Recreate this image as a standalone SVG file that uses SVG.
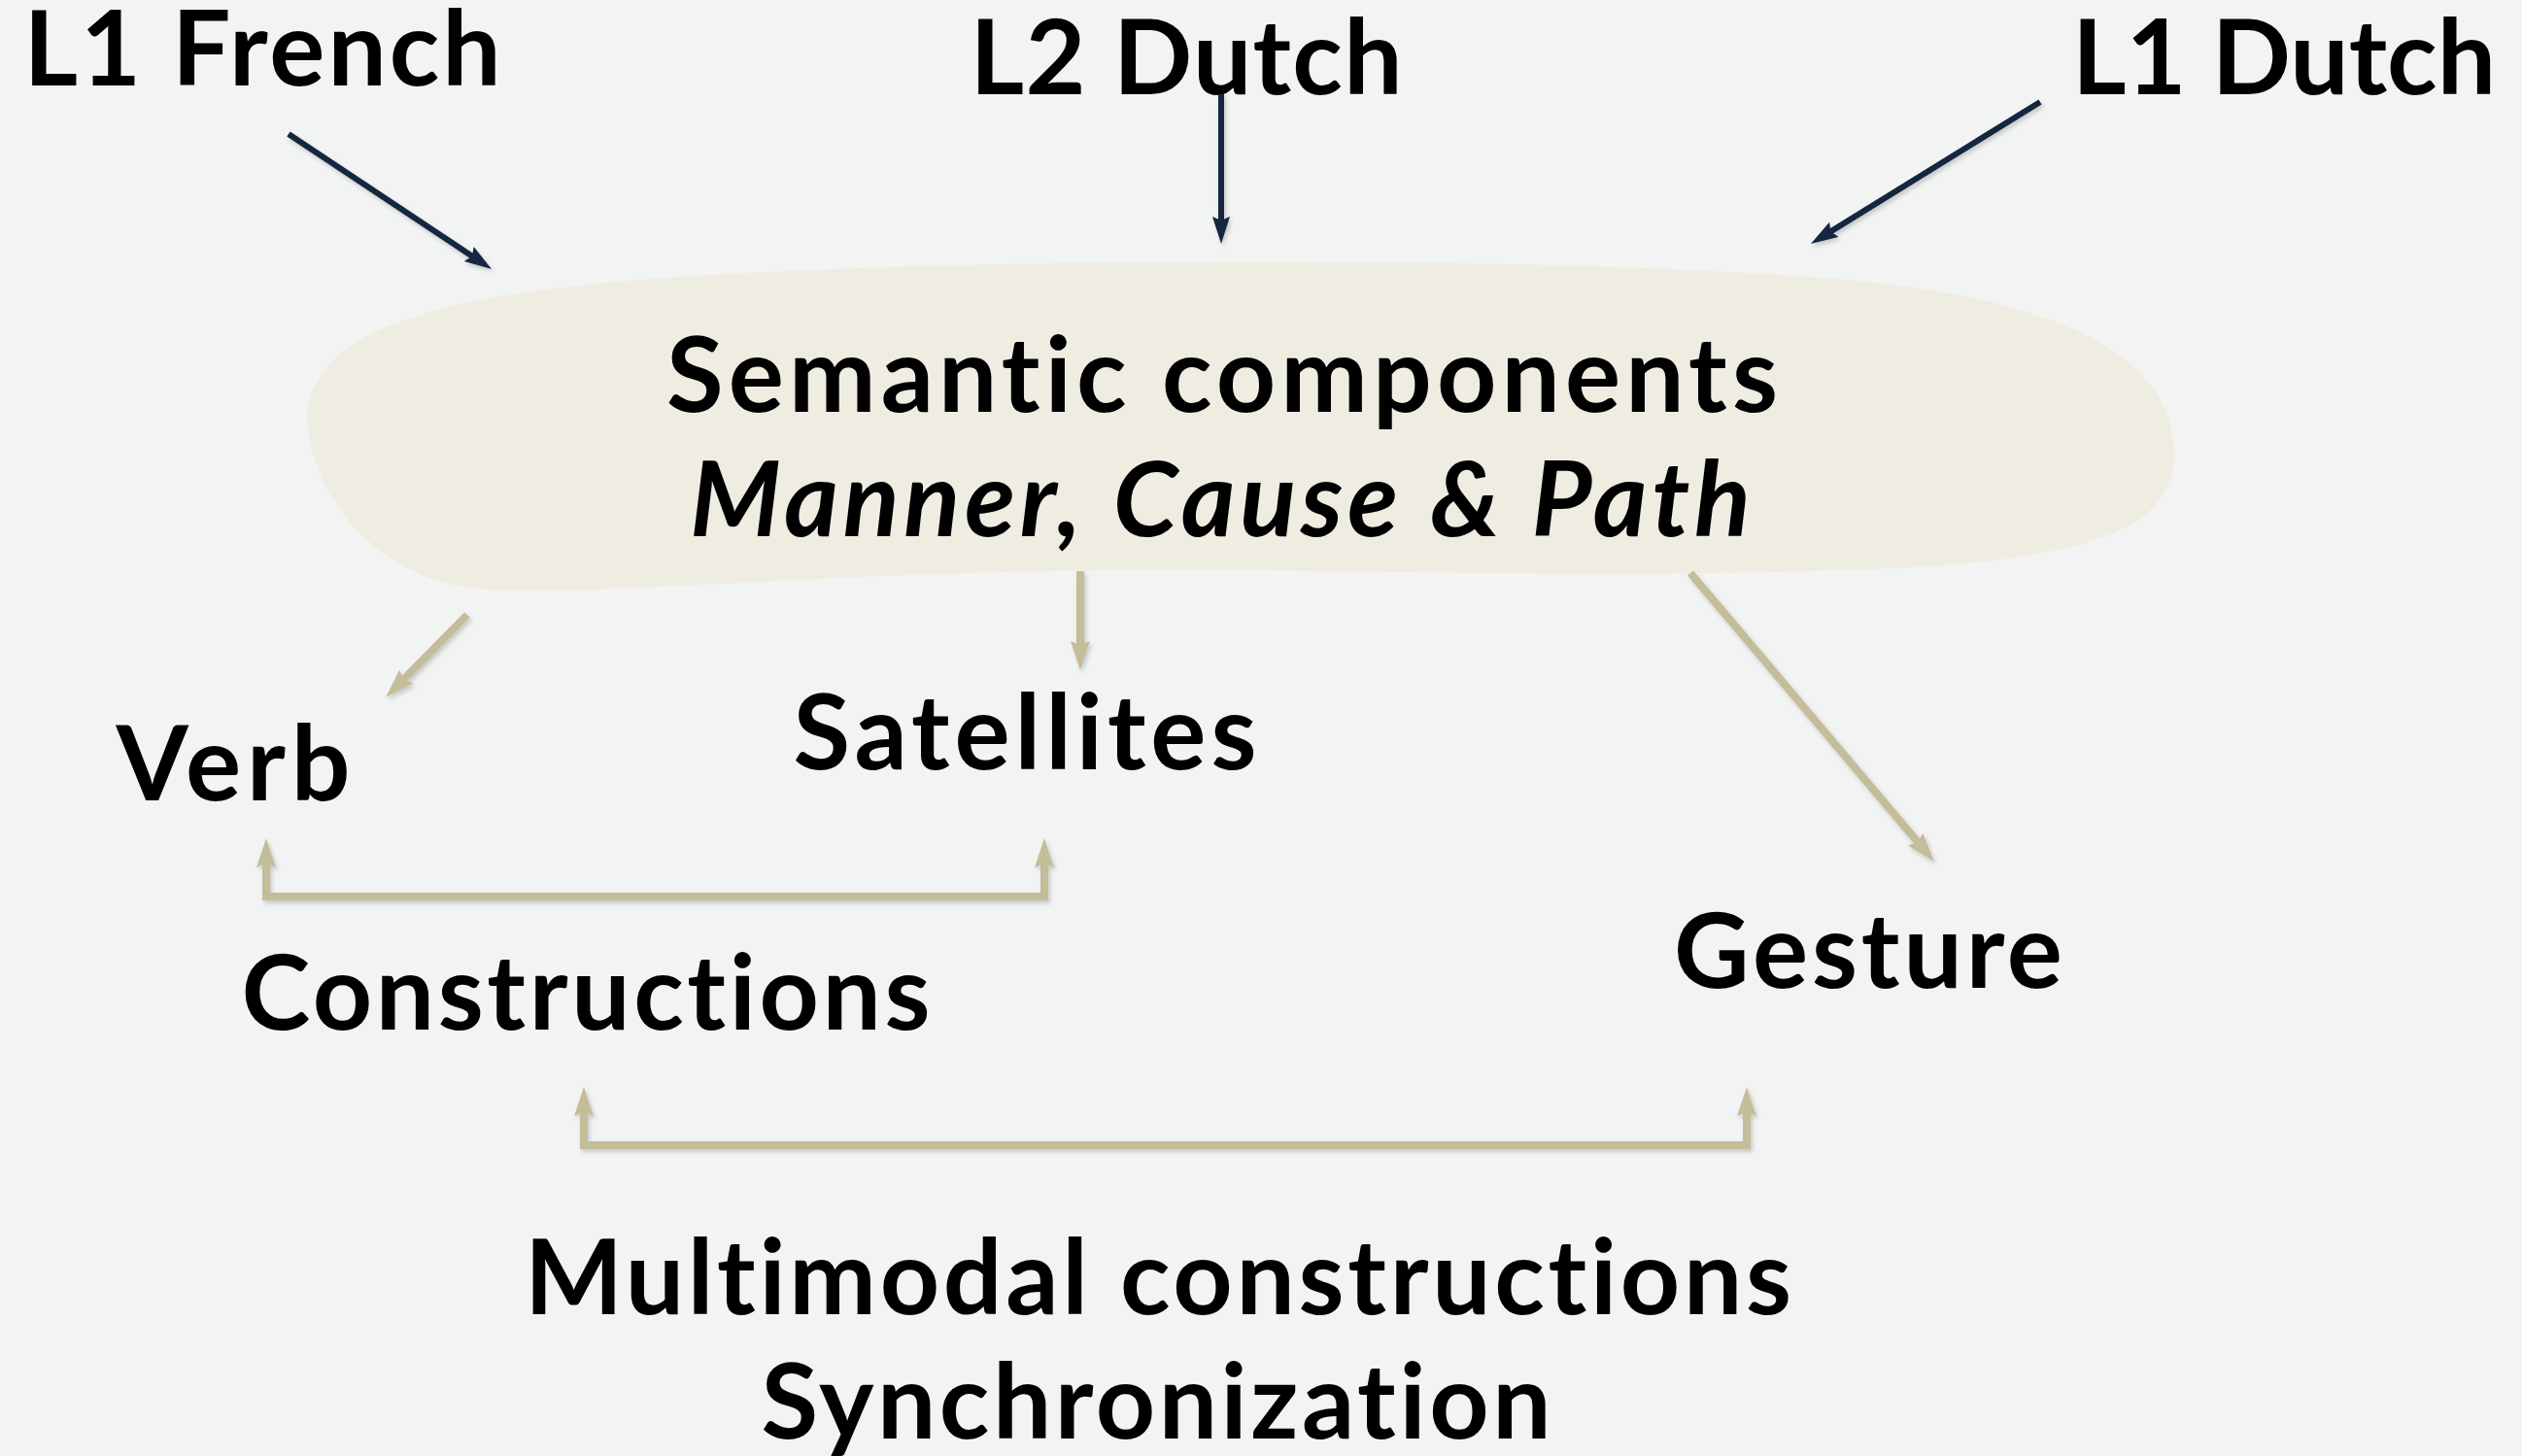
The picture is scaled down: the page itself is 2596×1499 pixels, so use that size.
<svg xmlns="http://www.w3.org/2000/svg" width="2596" height="1499" viewBox="0 0 2596 1499">
  <style>
    .t { font-family: Lato, "Open Sans", "Liberation Sans", sans-serif; font-weight: 700; font-size: 107px; fill: #000; text-anchor: middle; font-variant-ligatures: none; font-feature-settings: "liga" 0, "clig" 0; }
    .i { font-style: italic; }
    .dark { stroke: #13253f; stroke-width: 6; fill: none; }
    .gold { stroke: #c4bd9a; stroke-width: 8; fill: none; stroke-linejoin: miter; }
  </style>
  <defs>
    <filter id="sh" x="-20%" y="-20%" width="140%" height="140%">
      <feDropShadow dx="2" dy="3" stdDeviation="2" flood-color="#000" flood-opacity="0.18"/>
    </filter>
    <marker id="hd" markerUnits="userSpaceOnUse" markerWidth="32" markerHeight="20" viewBox="0 0 32 20" refX="4" refY="9" orient="auto-start-reverse">
      <path d="M0,0 L28,9 L0,18 L4,9 z" fill="#13253f"/>
    </marker>
    <marker id="hg" markerUnits="userSpaceOnUse" markerWidth="34" markerHeight="24" viewBox="0 0 34 24" refX="4" refY="10" orient="auto-start-reverse">
      <path d="M0,0 L30,10 L0,20 L4,10 z" fill="#c4bd9a"/>
    </marker>
  </defs>
  <rect width="2596" height="1499" fill="#f2f4f3"/>

  <g id="semantic-components">
    <path d="M316,430 C320,330 480,300 700,285 C1000,265 1600,262 1900,288 C2150,310 2240,380 2238,470 C2236,545 2150,575 1950,585 C1600,600 1300,580 1000,590 C800,595 620,612 500,607 C400,602 320,520 316,430 Z" fill="#efede2"/>
    <text class="t" x="1258" y="424" textLength="1144">Semantic components</text>
    <text class="t i" x="1256" y="552" textLength="1092">Manner, Cause &amp; Path</text>
  </g>
  <g id="l1-french"><text class="t" x="270" y="88" textLength="491">L1 French</text></g>
  <g id="l2-dutch"><text class="t" x="1221" y="97" textLength="445">L2 Dutch</text></g>
  <g id="l1-dutch"><text class="t" x="2351" y="97" textLength="436">L1 Dutch</text></g>
  <g id="verb"><text class="t" x="240" y="824" textLength="241">Verb</text></g>
  <g id="satellites"><text class="t" x="1055" y="792" textLength="477">Satellites</text></g>
  <g id="constructions"><text class="t" x="603" y="1060" textLength="709">Constructions</text></g>
  <g id="gesture"><text class="t" x="1923" y="1017" textLength="400">Gesture</text></g>
  <g id="multimodal">
    <text class="t" x="1192" y="1353" textLength="1304">Multimodal constructions</text>
    <text class="t" x="1190" y="1481" textLength="813">Synchronization</text>
  </g>

  <g id="connectors" filter="url(#sh)">
    <line class="dark" x1="297" y1="138" x2="486" y2="263.7" marker-end="url(#hd)"/>
    <line class="dark" x1="1257" y1="97" x2="1257" y2="227" marker-end="url(#hd)"/>
    <line class="dark" x1="2100" y1="105" x2="1884.4" y2="238.4" marker-end="url(#hd)"/>
    <line class="gold" x1="481" y1="633" x2="415.5" y2="699.3" marker-end="url(#hg)"/>
    <line class="gold" x1="1112" y1="588" x2="1112" y2="664" marker-end="url(#hg)"/>
    <line class="gold" x1="1740" y1="590" x2="1974.2" y2="867.1" marker-end="url(#hg)"/>
    <path class="gold" d="M274,889 L274,923 L1075,923 L1075,889" marker-start="url(#hg)" marker-end="url(#hg)"/>
    <path class="gold" d="M601,1145 L601,1179 L1798,1179 L1798,1145" marker-start="url(#hg)" marker-end="url(#hg)"/>
  </g>
</svg>
